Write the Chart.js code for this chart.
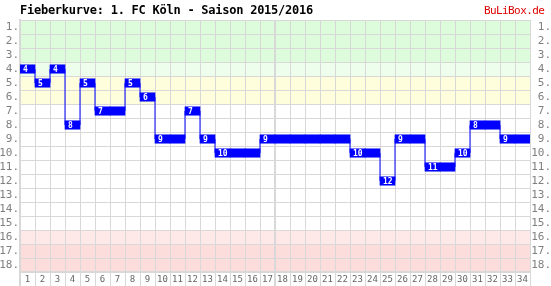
<!DOCTYPE html>
<html>
<head>
<meta charset="utf-8">
<script src="https://cdn.jsdelivr.net/npm/chart.js@4/dist/chart.umd.min.js"></script>
<style>
  html, body { margin: 0; padding: 0; background: #fff; }
  #wrap { position: relative; width: 551px; height: 286px; }
  #title { position: absolute; left: 20px; top: 3px; font: bold 12px "DejaVu Sans Mono", monospace; color: #000; letter-spacing: -0.25px; }
  #brand { position: absolute; left: 484px; top: 4px; font: 11px "DejaVu Sans Mono", monospace; color: #dd0000; letter-spacing: -0.6px; }
</style>
</head>
<body>
<div id="wrap">
  <canvas id="curveChart" width="551" height="286"></canvas>
  <div id="title">Fieberkurve: 1. FC Köln - Saison 2015/2016</div>
  <div id="brand">BuLiBox.de</div>
</div>
<script>
// Spieltage und Tabellenplatz
const matchdays = ['1','2','3','4','5','6','7','8','9','10','11','12','13','14','15','16','17',
  '18','19','20','21','22','23','24','25','26','27','28','29','30','31','32','33','34'];
const positions = [4, 5, 4, 8, 5, 7, 7, 5, 6, 9, 9, 7, 9, 10, 10, 10, 9,
  9, 9, 9, 9, 9, 10, 10, 12, 9, 9, 11, 11, 10, 8, 8, 9, 9];
const rankLabels = ['1.','2.','3.','4.','5.','6.','7.','8.','9.','10.','11.','12.','13.','14.','15.','16.','17.','18.'];

// Tabellenzonen (von Platz, bis Platz)
const zoneFrom = [1, 4, 5, 16, 17];
const zoneTo = [3, 4, 6, 16, 18];
const zoneColors = ['#dcfcdc', '#edfeed', '#fefedc', '#fee8e8', '#fddcdc'];

const gridColor = '#d8d8d8';
const blue = '#0000ff';

// Hintergrund-Zonen
const zonePlugin = {
  id: 'zones',
  beforeDraw(chart) {
    const ctx = chart.ctx;
    const area = chart.chartArea;
    const y = chart.scales.y;
    ctx.save();
    for (let i = 0; i < zoneFrom.length; i++) {
      const top = y.getPixelForValue(zoneFrom[i] - 0.5);
      const bottom = y.getPixelForValue(zoneTo[i] + 0.5);
      ctx.fillStyle = zoneColors[i];
      ctx.fillRect(area.left, top, area.right - area.left, bottom - top);
    }
    ctx.restore();
  }
};

// Platzierung als weisse Zahl im Balken
const labelPlugin = {
  id: 'barLabels',
  afterDatasetsDraw(chart) {
    const ctx = chart.ctx;
    const meta = chart.getDatasetMeta(0);
    const y = chart.scales.y;
    ctx.save();
    ctx.fillStyle = '#ffffff';
    ctx.font = 'bold 8px "DejaVu Sans Mono", monospace';
    ctx.textBaseline = 'middle';
    ctx.textAlign = 'left';
    for (let i = 0; i < positions.length; i++) {
      if (i > 0 && positions[i] == positions[i - 1]) continue;
      const el = meta.data[i];
      ctx.fillText(String(positions[i]), el.x - el.width / 2 + 3, y.getPixelForValue(positions[i]) + 0.5);
    }
    ctx.restore();
  }
};

const ctx = document.getElementById('curveChart').getContext('2d');
window.curveChart = new Chart(ctx, {
  data: {
    labels: matchdays,
    datasets: [{
      type: 'bar',
      label: 'Platz',
      data: positions.map(p => [p - 0.3, p + 0.3]),
      backgroundColor: blue,
      borderWidth: 0,
      barPercentage: 1,
      categoryPercentage: 1,
      xAxisID: 'x',
      yAxisID: 'y',
      order: 0
    }, {
      type: 'line',
      label: 'Verlauf',
      data: positions,
      borderColor: blue,
      borderWidth: 1,
      pointRadius: 0,
      stepped: 'middle',
      fill: false,
      xAxisID: 'x',
      yAxisID: 'y',
      order: 1
    }]
  },
  plugins: [zonePlugin, labelPlugin],
  options: {
    responsive: false,
    animation: false,
    devicePixelRatio: 1,
    layout: { padding: { top: 20, left: 0, right: 0, bottom: 0 } },
    plugins: {
      legend: { display: false },
      tooltip: { enabled: false },
      title: { display: false }
    },
    scales: {
      x: {
        type: 'category',
        position: 'bottom',
        offset: true,
        grid: {
          offset: true,
          color: gridColor,
          lineWidth: c => (c.index == 0 || c.index == 17) ? 2 : 1,
          drawTicks: true,
          tickLength: 14
        },
        border: { display: true, color: gridColor, width: 2 },
        ticks: {
          color: '#666666',
          font: { family: '"DejaVu Sans Mono", monospace', size: 9 },
          padding: -12,
          maxRotation: 0,
          autoSkip: false
        },
        afterFit: s => { s.height = 14; }
      },
      y: {
        type: 'linear',
        display: false,
        reverse: true,
        min: 0.5,
        max: 18.5
      },
      yl: {
        type: 'category',
        labels: rankLabels,
        position: 'left',
        offset: true,
        grid: { offset: true, color: gridColor, lineWidth: 1, drawTicks: false },
        border: { display: true, color: gridColor, width: 2 },
        ticks: {
          color: '#808080',
          font: { family: '"DejaVu Sans Mono", monospace', size: 11 },
          padding: 1,
          autoSkip: false
        },
        afterFit: s => { s.width = 20; }
      },
      yr: {
        type: 'category',
        labels: rankLabels,
        position: 'right',
        offset: true,
        grid: { display: false, drawTicks: false },
        border: { display: false },
        ticks: {
          color: '#808080',
          font: { family: '"DejaVu Sans Mono", monospace', size: 11 },
          padding: 3,
          crossAlign: 'far',
          autoSkip: false
        },
        afterFit: s => { s.width = 21; }
      }
    }
  }
});
</script>
</body>
</html>
